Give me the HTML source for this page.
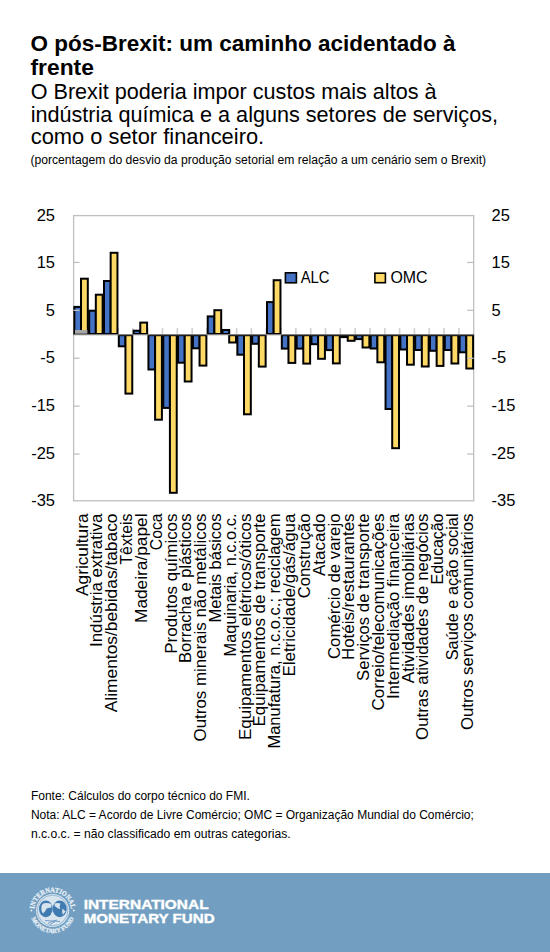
<!DOCTYPE html><html><head><meta charset="utf-8"><style>html,body{margin:0;padding:0;background:#fff;width:550px;height:952px;overflow:hidden}svg{display:block}text{font-family:"Liberation Sans",sans-serif}</style></head><body>
<svg width="550" height="952" viewBox="0 0 550 952">
<text x="30.5" y="50.6" font-size="22" font-weight="bold" fill="#000" textLength="425" lengthAdjust="spacingAndGlyphs">O pós-Brexit: um caminho acidentado à</text>
<text x="30.5" y="75" font-size="22" font-weight="bold" fill="#000" textLength="63.4" lengthAdjust="spacingAndGlyphs">frente</text>
<text x="30.7" y="99.2" font-size="21.5" fill="#000" textLength="405.8" lengthAdjust="spacingAndGlyphs">O Brexit poderia impor custos mais altos à</text>
<text x="30.7" y="121.6" font-size="21.5" fill="#000" textLength="467.3" lengthAdjust="spacingAndGlyphs">indústria química e a alguns setores de serviços,</text>
<text x="30.7" y="144.2" font-size="21.5" fill="#000" textLength="233.5" lengthAdjust="spacingAndGlyphs">como o setor financeiro.</text>
<text x="30.4" y="164" font-size="12" fill="#000" textLength="455.7" lengthAdjust="spacingAndGlyphs">(porcentagem do desvio da produção setorial em relação a um cenário sem o Brexit)</text>
<rect x="73.6" y="215.6" width="400.1" height="285.20000000000005" fill="none" stroke="#BFBFBF" stroke-width="1.3"/>
<text x="55" y="220.53" font-size="16.5" text-anchor="end" fill="#000">25</text>
<text x="491.6" y="220.53" font-size="16.5" fill="#000">25</text>
<text x="55" y="268.16" font-size="16.5" text-anchor="end" fill="#000">15</text>
<text x="491.6" y="268.16" font-size="16.5" fill="#000">15</text>
<text x="55" y="315.79" font-size="16.5" text-anchor="end" fill="#000">5</text>
<text x="491.6" y="315.79" font-size="16.5" fill="#000">5</text>
<text x="55" y="363.42" font-size="16.5" text-anchor="end" fill="#000">-5</text>
<text x="491.6" y="363.42" font-size="16.5" fill="#000">-5</text>
<text x="55" y="411.05" font-size="16.5" text-anchor="end" fill="#000">-15</text>
<text x="491.6" y="411.05" font-size="16.5" fill="#000">-15</text>
<text x="55" y="458.68" font-size="16.5" text-anchor="end" fill="#000">-25</text>
<text x="491.6" y="458.68" font-size="16.5" fill="#000">-25</text>
<text x="55" y="506.31" font-size="16.5" text-anchor="end" fill="#000">-35</text>
<text x="491.6" y="506.31" font-size="16.5" fill="#000">-35</text>
<line x1="88.42" y1="328.10" x2="88.42" y2="334.6" stroke="#D0D0D0" stroke-width="1.6"/>
<line x1="103.24" y1="328.10" x2="103.24" y2="334.6" stroke="#D0D0D0" stroke-width="1.6"/>
<line x1="118.06" y1="328.10" x2="118.06" y2="334.6" stroke="#D0D0D0" stroke-width="1.6"/>
<line x1="132.87" y1="328.10" x2="132.87" y2="334.6" stroke="#D0D0D0" stroke-width="1.6"/>
<line x1="147.69" y1="328.10" x2="147.69" y2="334.6" stroke="#D0D0D0" stroke-width="1.6"/>
<line x1="162.51" y1="328.10" x2="162.51" y2="334.6" stroke="#D0D0D0" stroke-width="1.6"/>
<line x1="177.33" y1="328.10" x2="177.33" y2="334.6" stroke="#D0D0D0" stroke-width="1.6"/>
<line x1="192.15" y1="328.10" x2="192.15" y2="334.6" stroke="#D0D0D0" stroke-width="1.6"/>
<line x1="206.97" y1="328.10" x2="206.97" y2="334.6" stroke="#D0D0D0" stroke-width="1.6"/>
<line x1="221.79" y1="328.10" x2="221.79" y2="334.6" stroke="#D0D0D0" stroke-width="1.6"/>
<line x1="236.60" y1="328.10" x2="236.60" y2="334.6" stroke="#D0D0D0" stroke-width="1.6"/>
<line x1="251.42" y1="328.10" x2="251.42" y2="334.6" stroke="#D0D0D0" stroke-width="1.6"/>
<line x1="266.24" y1="328.10" x2="266.24" y2="334.6" stroke="#D0D0D0" stroke-width="1.6"/>
<line x1="281.06" y1="328.10" x2="281.06" y2="334.6" stroke="#D0D0D0" stroke-width="1.6"/>
<line x1="295.88" y1="328.10" x2="295.88" y2="334.6" stroke="#D0D0D0" stroke-width="1.6"/>
<line x1="310.70" y1="328.10" x2="310.70" y2="334.6" stroke="#D0D0D0" stroke-width="1.6"/>
<line x1="325.51" y1="328.10" x2="325.51" y2="334.6" stroke="#D0D0D0" stroke-width="1.6"/>
<line x1="340.33" y1="328.10" x2="340.33" y2="334.6" stroke="#D0D0D0" stroke-width="1.6"/>
<line x1="355.15" y1="328.10" x2="355.15" y2="334.6" stroke="#D0D0D0" stroke-width="1.6"/>
<line x1="369.97" y1="328.10" x2="369.97" y2="334.6" stroke="#D0D0D0" stroke-width="1.6"/>
<line x1="384.79" y1="328.10" x2="384.79" y2="334.6" stroke="#D0D0D0" stroke-width="1.6"/>
<line x1="399.61" y1="328.10" x2="399.61" y2="334.6" stroke="#D0D0D0" stroke-width="1.6"/>
<line x1="414.43" y1="328.10" x2="414.43" y2="334.6" stroke="#D0D0D0" stroke-width="1.6"/>
<line x1="429.24" y1="328.10" x2="429.24" y2="334.6" stroke="#D0D0D0" stroke-width="1.6"/>
<line x1="444.06" y1="328.10" x2="444.06" y2="334.6" stroke="#D0D0D0" stroke-width="1.6"/>
<line x1="458.88" y1="328.10" x2="458.88" y2="334.6" stroke="#D0D0D0" stroke-width="1.6"/>
<rect x="74.35" y="306.90" width="6.66" height="27.10" fill="#4472C4" stroke="#000" stroke-width="2.0"/>
<rect x="81.01" y="278.70" width="6.81" height="55.30" fill="#FFD966" stroke="#000" stroke-width="2.0"/>
<rect x="89.17" y="310.70" width="6.66" height="23.30" fill="#4472C4" stroke="#000" stroke-width="2.0"/>
<rect x="95.83" y="294.70" width="6.81" height="39.30" fill="#FFD966" stroke="#000" stroke-width="2.0"/>
<rect x="103.99" y="281.00" width="6.66" height="53.00" fill="#4472C4" stroke="#000" stroke-width="2.0"/>
<rect x="110.65" y="252.80" width="6.81" height="81.20" fill="#FFD966" stroke="#000" stroke-width="2.0"/>
<rect x="118.81" y="335.20" width="6.66" height="11.10" fill="#4472C4" stroke="#000" stroke-width="2.0"/>
<rect x="125.46" y="335.20" width="6.81" height="58.40" fill="#FFD966" stroke="#000" stroke-width="2.0"/>
<rect x="133.62" y="330.70" width="6.66" height="3.30" fill="#4472C4" stroke="#000" stroke-width="2.0"/>
<rect x="140.28" y="322.60" width="6.81" height="11.40" fill="#FFD966" stroke="#000" stroke-width="2.0"/>
<rect x="148.44" y="335.20" width="6.66" height="34.30" fill="#4472C4" stroke="#000" stroke-width="2.0"/>
<rect x="155.10" y="335.20" width="6.81" height="84.50" fill="#FFD966" stroke="#000" stroke-width="2.0"/>
<rect x="163.26" y="335.20" width="6.66" height="72.70" fill="#4472C4" stroke="#000" stroke-width="2.0"/>
<rect x="169.92" y="335.20" width="6.81" height="157.60" fill="#FFD966" stroke="#000" stroke-width="2.0"/>
<rect x="178.08" y="335.20" width="6.66" height="27.50" fill="#4472C4" stroke="#000" stroke-width="2.0"/>
<rect x="184.74" y="335.20" width="6.81" height="46.30" fill="#FFD966" stroke="#000" stroke-width="2.0"/>
<rect x="192.90" y="335.20" width="6.66" height="13.10" fill="#4472C4" stroke="#000" stroke-width="2.0"/>
<rect x="199.56" y="335.20" width="6.81" height="30.40" fill="#FFD966" stroke="#000" stroke-width="2.0"/>
<rect x="207.72" y="316.40" width="6.66" height="17.60" fill="#4472C4" stroke="#000" stroke-width="2.0"/>
<rect x="214.38" y="310.20" width="6.81" height="23.80" fill="#FFD966" stroke="#000" stroke-width="2.0"/>
<rect x="222.54" y="330.00" width="6.66" height="4.00" fill="#4472C4" stroke="#000" stroke-width="2.0"/>
<rect x="229.19" y="335.20" width="6.81" height="7.30" fill="#FFD966" stroke="#000" stroke-width="2.0"/>
<rect x="237.35" y="335.20" width="6.66" height="19.50" fill="#4472C4" stroke="#000" stroke-width="2.0"/>
<rect x="244.01" y="335.20" width="6.81" height="79.10" fill="#FFD966" stroke="#000" stroke-width="2.0"/>
<rect x="252.17" y="335.20" width="6.66" height="8.60" fill="#4472C4" stroke="#000" stroke-width="2.0"/>
<rect x="258.83" y="335.20" width="6.81" height="31.40" fill="#FFD966" stroke="#000" stroke-width="2.0"/>
<rect x="266.99" y="302.10" width="6.66" height="31.90" fill="#4472C4" stroke="#000" stroke-width="2.0"/>
<rect x="273.65" y="280.20" width="6.81" height="53.80" fill="#FFD966" stroke="#000" stroke-width="2.0"/>
<rect x="281.81" y="335.20" width="6.66" height="13.40" fill="#4472C4" stroke="#000" stroke-width="2.0"/>
<rect x="288.47" y="335.20" width="6.81" height="27.70" fill="#FFD966" stroke="#000" stroke-width="2.0"/>
<rect x="296.63" y="335.20" width="6.66" height="13.40" fill="#4472C4" stroke="#000" stroke-width="2.0"/>
<rect x="303.29" y="335.20" width="6.81" height="28.40" fill="#FFD966" stroke="#000" stroke-width="2.0"/>
<rect x="311.45" y="335.20" width="6.66" height="9.00" fill="#4472C4" stroke="#000" stroke-width="2.0"/>
<rect x="318.11" y="335.20" width="6.81" height="23.60" fill="#FFD966" stroke="#000" stroke-width="2.0"/>
<rect x="326.26" y="335.20" width="6.66" height="14.90" fill="#4472C4" stroke="#000" stroke-width="2.0"/>
<rect x="332.92" y="335.20" width="6.81" height="28.20" fill="#FFD966" stroke="#000" stroke-width="2.0"/>
<rect x="341.08" y="335.20" width="6.66" height="1.90" fill="#000" stroke="#000" stroke-width="2.0"/>
<rect x="347.74" y="335.20" width="6.81" height="5.60" fill="#FFD966" stroke="#000" stroke-width="2.0"/>
<rect x="355.90" y="335.20" width="6.66" height="3.90" fill="#4472C4" stroke="#000" stroke-width="2.0"/>
<rect x="362.56" y="335.20" width="6.81" height="12.30" fill="#FFD966" stroke="#000" stroke-width="2.0"/>
<rect x="370.72" y="335.20" width="6.66" height="13.30" fill="#4472C4" stroke="#000" stroke-width="2.0"/>
<rect x="377.38" y="335.20" width="6.81" height="27.10" fill="#FFD966" stroke="#000" stroke-width="2.0"/>
<rect x="385.54" y="335.20" width="6.66" height="73.80" fill="#4472C4" stroke="#000" stroke-width="2.0"/>
<rect x="392.20" y="335.20" width="6.81" height="113.00" fill="#FFD966" stroke="#000" stroke-width="2.0"/>
<rect x="400.36" y="335.20" width="6.66" height="14.30" fill="#4472C4" stroke="#000" stroke-width="2.0"/>
<rect x="407.02" y="335.20" width="6.81" height="29.50" fill="#FFD966" stroke="#000" stroke-width="2.0"/>
<rect x="415.18" y="335.20" width="6.66" height="14.80" fill="#4472C4" stroke="#000" stroke-width="2.0"/>
<rect x="421.84" y="335.20" width="6.81" height="31.30" fill="#FFD966" stroke="#000" stroke-width="2.0"/>
<rect x="429.99" y="335.20" width="6.66" height="15.60" fill="#4472C4" stroke="#000" stroke-width="2.0"/>
<rect x="436.65" y="335.20" width="6.81" height="30.70" fill="#FFD966" stroke="#000" stroke-width="2.0"/>
<rect x="444.81" y="335.20" width="6.66" height="14.80" fill="#4472C4" stroke="#000" stroke-width="2.0"/>
<rect x="451.47" y="335.20" width="6.81" height="28.30" fill="#FFD966" stroke="#000" stroke-width="2.0"/>
<rect x="459.63" y="335.20" width="6.66" height="17.10" fill="#4472C4" stroke="#000" stroke-width="2.0"/>
<rect x="466.29" y="335.20" width="6.81" height="33.30" fill="#FFD966" stroke="#000" stroke-width="2.0"/>
<rect x="75" y="330" width="12.4" height="3.7" fill="#A6A6A6"/>
<line x1="73.6" y1="262.45" x2="79.6" y2="262.45" stroke="#BFBFBF" stroke-width="1.3"/>
<line x1="467.3" y1="262.45" x2="473.7" y2="262.45" stroke="#BFBFBF" stroke-width="1.3"/>
<line x1="73.6" y1="310.35" x2="79.6" y2="310.35" stroke="#BFBFBF" stroke-width="1.3"/>
<line x1="467.3" y1="310.35" x2="473.7" y2="310.35" stroke="#BFBFBF" stroke-width="1.3"/>
<line x1="73.6" y1="358.25" x2="79.6" y2="358.25" stroke="#BFBFBF" stroke-width="1.3"/>
<line x1="467.3" y1="358.25" x2="473.7" y2="358.25" stroke="#BFBFBF" stroke-width="1.3"/>
<line x1="73.6" y1="406.15" x2="79.6" y2="406.15" stroke="#BFBFBF" stroke-width="1.3"/>
<line x1="467.3" y1="406.15" x2="473.7" y2="406.15" stroke="#BFBFBF" stroke-width="1.3"/>
<line x1="73.6" y1="454.05" x2="79.6" y2="454.05" stroke="#BFBFBF" stroke-width="1.3"/>
<line x1="467.3" y1="454.05" x2="473.7" y2="454.05" stroke="#BFBFBF" stroke-width="1.3"/>
<line x1="73.6" y1="334.6" x2="473.7" y2="334.6" stroke="#7F7F7F" stroke-width="1.2"/>
<rect x="285.4" y="272.8" width="11" height="10" fill="#4472C4" stroke="#000" stroke-width="1.6"/>
<text x="300.7" y="282.9" font-size="16.5" fill="#000" textLength="28.9" lengthAdjust="spacingAndGlyphs">ALC</text>
<rect x="374.9" y="273.2" width="10.5" height="9.5" fill="#FFD966" stroke="#000" stroke-width="1.6"/>
<text x="390.5" y="283" font-size="16.5" fill="#000" textLength="37.1" lengthAdjust="spacingAndGlyphs">OMC</text>
<text transform="translate(87.61,595.90) rotate(-90)" x="0" y="0" font-size="17" fill="#000" textLength="82.4" lengthAdjust="spacingAndGlyphs">Agricultura</text>
<text transform="translate(102.43,647.00) rotate(-90)" x="0" y="0" font-size="17" fill="#000" textLength="133.5" lengthAdjust="spacingAndGlyphs">Indústria extrativa</text>
<text transform="translate(117.25,712.20) rotate(-90)" x="0" y="0" font-size="17" fill="#000" textLength="198.7" lengthAdjust="spacingAndGlyphs">Alimentos/bebidas/tabaco</text>
<text transform="translate(132.06,564.60) rotate(-90)" x="0" y="0" font-size="17" fill="#000" textLength="51.1" lengthAdjust="spacingAndGlyphs">Têxteis</text>
<text transform="translate(146.88,623.00) rotate(-90)" x="0" y="0" font-size="17" fill="#000" textLength="109.5" lengthAdjust="spacingAndGlyphs">Madeira/papel</text>
<text transform="translate(161.70,550.20) rotate(-90)" x="0" y="0" font-size="17" fill="#000" textLength="36.7" lengthAdjust="spacingAndGlyphs">Coca</text>
<text transform="translate(176.52,653.70) rotate(-90)" x="0" y="0" font-size="17" fill="#000" textLength="140.2" lengthAdjust="spacingAndGlyphs">Produtos químicos</text>
<text transform="translate(191.34,663.00) rotate(-90)" x="0" y="0" font-size="17" fill="#000" textLength="149.5" lengthAdjust="spacingAndGlyphs">Borracha e plásticos</text>
<text transform="translate(206.16,741.40) rotate(-90)" x="0" y="0" font-size="17" fill="#000" textLength="227.9" lengthAdjust="spacingAndGlyphs">Outros minerais não metálicos</text>
<text transform="translate(220.98,622.50) rotate(-90)" x="0" y="0" font-size="17" fill="#000" textLength="109.0" lengthAdjust="spacingAndGlyphs">Metais básicos</text>
<text transform="translate(235.79,656.50) rotate(-90)" x="0" y="0" font-size="17" fill="#000" textLength="143.0" lengthAdjust="spacingAndGlyphs">Maquinaria, n.c.o.c.</text>
<text transform="translate(250.61,740.10) rotate(-90)" x="0" y="0" font-size="17" fill="#000" textLength="226.6" lengthAdjust="spacingAndGlyphs">Equipamentos elétricos/óticos</text>
<text transform="translate(265.43,726.50) rotate(-90)" x="0" y="0" font-size="17" fill="#000" textLength="213.0" lengthAdjust="spacingAndGlyphs">Equipamentos de transporte</text>
<text transform="translate(280.25,748.60) rotate(-90)" x="0" y="0" font-size="17" fill="#000" textLength="235.1" lengthAdjust="spacingAndGlyphs">Manufatura, n.c.o.c.; reciclagem</text>
<text transform="translate(295.07,676.60) rotate(-90)" x="0" y="0" font-size="17" fill="#000" textLength="163.1" lengthAdjust="spacingAndGlyphs">Eletricidade/gás/água</text>
<text transform="translate(309.89,598.30) rotate(-90)" x="0" y="0" font-size="17" fill="#000" textLength="84.8" lengthAdjust="spacingAndGlyphs">Construção</text>
<text transform="translate(324.71,576.00) rotate(-90)" x="0" y="0" font-size="17" fill="#000" textLength="62.5" lengthAdjust="spacingAndGlyphs">Atacado</text>
<text transform="translate(339.52,659.00) rotate(-90)" x="0" y="0" font-size="17" fill="#000" textLength="145.5" lengthAdjust="spacingAndGlyphs">Comércio de varejo</text>
<text transform="translate(354.34,660.00) rotate(-90)" x="0" y="0" font-size="17" fill="#000" textLength="146.5" lengthAdjust="spacingAndGlyphs">Hotéis/restaurantes</text>
<text transform="translate(369.16,681.00) rotate(-90)" x="0" y="0" font-size="17" fill="#000" textLength="167.5" lengthAdjust="spacingAndGlyphs">Serviços de transporte</text>
<text transform="translate(383.98,710.50) rotate(-90)" x="0" y="0" font-size="17" fill="#000" textLength="197.0" lengthAdjust="spacingAndGlyphs">Correio/telecomunicações</text>
<text transform="translate(398.80,699.10) rotate(-90)" x="0" y="0" font-size="17" fill="#000" textLength="185.6" lengthAdjust="spacingAndGlyphs">Intermediação financeira</text>
<text transform="translate(413.62,683.20) rotate(-90)" x="0" y="0" font-size="17" fill="#000" textLength="169.7" lengthAdjust="spacingAndGlyphs">Atividades imobiliárias</text>
<text transform="translate(428.44,739.90) rotate(-90)" x="0" y="0" font-size="17" fill="#000" textLength="226.4" lengthAdjust="spacingAndGlyphs">Outras atividades de negócios</text>
<text transform="translate(443.25,584.50) rotate(-90)" x="0" y="0" font-size="17" fill="#000" textLength="71.0" lengthAdjust="spacingAndGlyphs">Educação</text>
<text transform="translate(458.07,660.30) rotate(-90)" x="0" y="0" font-size="17" fill="#000" textLength="146.8" lengthAdjust="spacingAndGlyphs">Saúde e ação social</text>
<text transform="translate(472.89,730.10) rotate(-90)" x="0" y="0" font-size="17" fill="#000" textLength="216.6" lengthAdjust="spacingAndGlyphs">Outros serviços comunitários</text>
<text x="30.9" y="799.6" font-size="12" fill="#000" textLength="219.0" lengthAdjust="spacingAndGlyphs">Fonte: Cálculos do corpo técnico do FMI.</text>
<text x="30.9" y="818.7" font-size="12" fill="#000" textLength="443.0" lengthAdjust="spacingAndGlyphs">Nota: ALC = Acordo de Livre Comércio; OMC = Organização Mundial do Comércio;</text>
<text x="30.9" y="837.8" font-size="12" fill="#000" textLength="259.7" lengthAdjust="spacingAndGlyphs">n.c.o.c. = não classificado em outras categorias.</text>
<rect x="0" y="873" width="550" height="79" fill="#729FC1"/>
<defs><path id="arcT" d="M 34.3,910.5 A 18.3 18.3 0 0 1 70.9,910.5"/><path id="arcB" d="M 30.0,910.5 A 22.6 22.6 0 0 0 75.2,910.5"/></defs>
<text style="font-family:Liberation Serif,serif" font-weight="bold" font-size="7" fill="#EAF1F7" stroke="#EAF1F7" stroke-width="0.25"><textPath href="#arcT" startOffset="50%" text-anchor="middle" textLength="54" lengthAdjust="spacingAndGlyphs">INTERNATIONAL</textPath></text>
<text style="font-family:Liberation Serif,serif" font-weight="bold" font-size="6.3" fill="#EAF1F7" stroke="#EAF1F7" stroke-width="0.2"><textPath href="#arcB" startOffset="50%" text-anchor="middle" textLength="55" lengthAdjust="spacingAndGlyphs">MONETARY FUND</textPath></text>
<circle cx="31.400000000000002" cy="910.5" r="0.9" fill="#EAF1F7"/><circle cx="73.8" cy="910.5" r="0.9" fill="#EAF1F7"/>
<circle cx="52.6" cy="910.5" r="16.6" fill="#D8E4EE"/>
<circle cx="52.6" cy="910.5" r="15.3" fill="none" stroke="#6A9AC2" stroke-width="0.6"/>
<ellipse cx="45.85" cy="908.9" rx="6.85" ry="8.3" fill="#3F7BB1"/><ellipse cx="59.7" cy="908.9" rx="7.0" ry="8.3" fill="#3F7BB1"/>
<path d="M41.3,909.4 L41.6,905.6 L43.2,903.6 L45.8,902.9 L49.2,903.3 L51.4,904.3 L51.5,907.4 L49.3,907.8 L46.6,908.4 L45.2,911.2 L43.1,913.4 L42,911.9 Z" fill="#D8E4EE"/>
<path d="M54.6,903.6 L57.5,902.9 L60.5,903.6 L59.6,906.4 L60.2,909 L57.6,908.2 L56.2,907 L54.8,906.2 Z" fill="#D8E4EE"/>
<path d="M62.5,908.6 L65.6,911.5 L62.8,914.8 L62.2,912 Z" fill="#D8E4EE"/>
<path d="M51.2,912.6 L53.2,913 L53,915.5 L51.4,915.2 Z" fill="#D8E4EE"/>
<path d="M45,920.5 L60,921.5 M48,923.5 C51,921.5 54,921 57,920 M50,924.5 L55,921.5" stroke="#5E91BE" stroke-width="0.8" fill="none"/>
<text x="83.7" y="909" font-size="12.5" font-weight="bold" fill="#fff" stroke="#fff" stroke-width="0.35" textLength="124.9" lengthAdjust="spacingAndGlyphs">INTERNATIONAL</text>
<text x="83.7" y="922.6" font-size="12.5" font-weight="bold" fill="#fff" stroke="#fff" stroke-width="0.35" textLength="130.9" lengthAdjust="spacingAndGlyphs">MONETARY FUND</text>
</svg></body></html>
